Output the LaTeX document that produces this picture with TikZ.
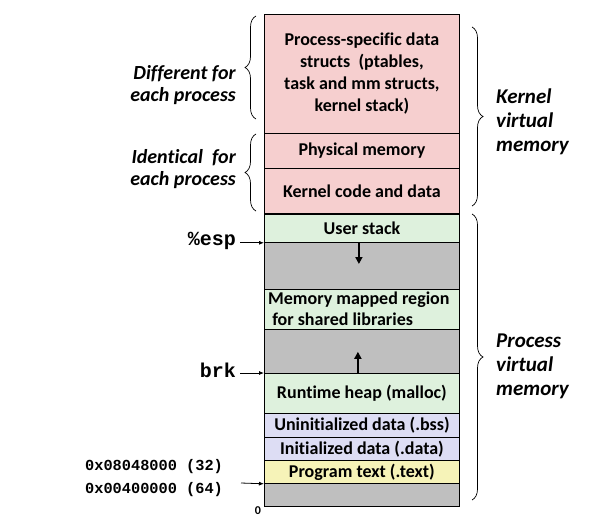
\documentclass[tikz,border=0pt]{standalone}
\usepackage{fontspec}
\setmainfont[Ligatures={NoCommon}]{Carlito}
\setmonofont{Liberation Mono}
\usetikzlibrary{decorations.pathreplacing,arrows.meta}
\definecolor{pinkc}{HTML}{F6CFCF}
\definecolor{greenc}{HTML}{DEF1DD}
\definecolor{lavc}{HTML}{DDDDF4}
\definecolor{yelc}{HTML}{F6F3B8}
\definecolor{grayc}{HTML}{BFBFBF}
\tikzset{
  seg/.style={draw=black, line width=0.8pt, anchor=north west, minimum width=195pt, inner sep=0pt, font=\fontsize{18}{22}\selectfont\bfseries, align=center},
  sidelab/.style={font=\fontsize{20}{22}\selectfont\bfseries\itshape, align=right},
  rightlab/.style={font=\fontsize{21}{24}\selectfont\bfseries\itshape, align=left, anchor=west},
  brc/.style={decorate, decoration={brace, amplitude=11pt}, line width=0.7pt},
  ptr/.style={-{Latex[length=5pt,width=4pt]}, line width=0.8pt},
  growarrow/.style={-{Triangle[length=7pt,width=7pt]}, line width=2pt}
}
\begin{document}
\begin{tikzpicture}[x=1pt,y=-1pt]
\useasboundingbox (0,0) rectangle (596,519);
% kernel part
\node[seg, fill=pinkc, minimum height=119pt] (ps) at (264,14) {Process-specific data\\ structs\ \ (ptables,\\task and mm structs,\\kernel stack)};
\node[seg, fill=pinkc, minimum height=35pt] (pm) at (264,133) {Physical memory};
\node[seg, fill=pinkc, minimum height=45pt] (kc) at (264,168) {Kernel code and data};
% user part
\node[seg, fill=greenc, minimum height=29pt] (us) at (264,213) {User stack};
\node[seg, fill=grayc, minimum height=47pt] (g1) at (264,242) {};
\node[seg, fill=greenc, minimum height=40pt] (mm) at (264,289) {};
\node[seg, fill=grayc, minimum height=44pt] (g2) at (264,329) {};
\node[seg, fill=greenc, minimum height=40pt] (rh) at (264,373) {Runtime heap (malloc)};
\node[seg, fill=lavc, minimum height=24pt] (bss) at (264,413) {Uninitialized data (.bss)};
\node[seg, fill=lavc, minimum height=23pt] (dat) at (264,437) {Initialized data (.data)};
\node[seg, fill=yelc, minimum height=23pt] (txt) at (264,460) {Program text (.text)};
\node[seg, fill=grayc, minimum height=23pt] (g3) at (264,483) {};
\node[font=\fontsize{18}{21}\selectfont\bfseries, align=left, anchor=west, inner sep=0pt] (mmt) at (268,309) {Memory mapped region\\\ for shared libraries};
% thick divider
\draw[line width=2.2pt] (kc.south west) -- (kc.south east);
% growth arrows
\draw[growarrow] ([xshift=-3pt]g1.north) -- ++(0,22);
\draw[growarrow] ([xshift=-4pt]g2.south) -- ++(0,-22);
% left labels
\node[sidelab, anchor=east, inner sep=0pt] (diff) at (236,85) {Different for\\each process};
\node[sidelab, anchor=east, inner sep=0pt] (iden) at (236,169) {Identical\ \ for\\each process};
\coordinate (b1t) at (256,16); \coordinate (b1b) at (256,119);
\coordinate (b2t) at (256,134); \coordinate (b2b) at (256,211);
\draw[brc] (b1b) -- (b1t);
\draw[brc] (b2b) -- (b2t);
% right braces
\coordinate (b3t) at (472,27); \coordinate (b3b) at (472,206);
\coordinate (b4t) at (472,214); \coordinate (b4b) at (472,500);
\draw[brc] (b3t) -- (b3b);
\draw[brc] (b4t) -- (b4b);
\node[rightlab, inner sep=0pt] (kvm) at (496,122) {Kernel\\virtual\\memory};
\node[rightlab, inner sep=0pt] (pvm) at (496,366) {Process\\virtual\\memory};
% pointer labels
\node[font=\ttfamily\bfseries\fontsize{20}{22}\selectfont, anchor=east, inner sep=0pt] (esp) at (236,241) {\%esp};
\draw[ptr] ([xshift=4pt]esp.east |- us.south west) -- (us.south west);
\node[font=\ttfamily\bfseries\fontsize{20}{22}\selectfont, anchor=east, inner sep=0pt] (brk) at (236,370) {brk};
\draw[ptr] ([xshift=4pt]brk.east |- rh.north west) -- (rh.north west);
\node[font=\ttfamily\bfseries\fontsize{15.3}{18}\selectfont, anchor=west, inner sep=0pt] (a32) at (85,467) {0x08048000 (32)};
\node[font=\ttfamily\bfseries\fontsize{15.3}{18}\selectfont, anchor=west, inner sep=0pt] (a64) at (85,490) {0x00400000 (64)};
\coordinate (pstart) at (241,483);
\draw[ptr] (pstart) -- (txt.south west);
\node[font=\bfseries\fontsize{12}{14}\selectfont, inner sep=0pt] (zero) at (258,511) {0};
\end{tikzpicture}
\end{document}
